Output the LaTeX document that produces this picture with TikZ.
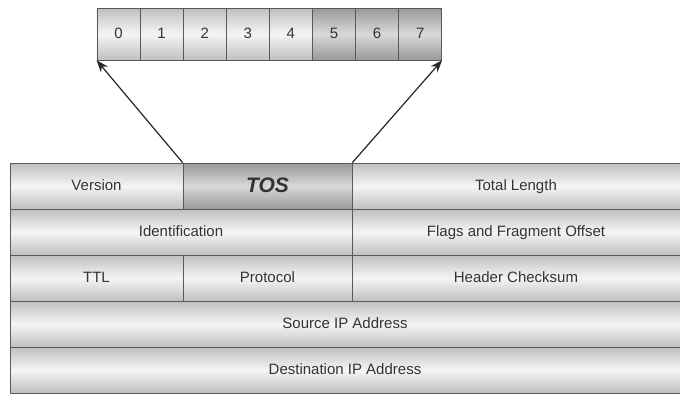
\documentclass[tikz,border=0pt]{standalone}
\usepackage{fontspec}
\setmainfont{Liberation Sans}
\usetikzlibrary{arrows.meta}

\begin{document}
\begin{tikzpicture}
  [x=1pt,y=-1pt,
   every node/.style={draw=gray!70!black,line width=0.6pt,inner sep=0pt,
     minimum height=46pt,text height=11pt,text depth=3pt,
     font=\fontsize{15}{17}\selectfont,text=black!80},
   field/.style={top color=gray!50,bottom color=gray!50,middle color=gray!8},
   dark/.style={top color=gray!80,bottom color=gray!80,middle color=gray!30},
   bit/.style={field,minimum width=43.1pt,minimum height=52pt},
   hi/.style={dark,minimum width=43.1pt,minimum height=52pt},
   link/.style={-{Stealth[length=12pt,width=9pt]},line width=1.2pt,gray!30!black}]

  \useasboundingbox (0,0) rectangle (680,416);

  % header fields
  \node[field,minimum width=173pt] (ver) at (96.5,186) {Version};
  \node[dark,minimum width=169pt,text height=14pt,text depth=2pt] (tos) at (267.5,186)
    {\fontsize{21}{23}\selectfont\bfseries\itshape TOS};
  \node[field,minimum width=328pt] (len) at (516,186) {Total Length};
  \node[field,minimum width=342pt] (ident) at (181,232) {Identification};
  \node[field,minimum width=328pt] (flags) at (516,232) {Flags and Fragment Offset};
  \node[field,minimum width=173pt] (ttl) at (96.5,278) {TTL};
  \node[field,minimum width=169pt] (proto) at (267.5,278) {Protocol};
  \node[field,minimum width=328pt] (cksum) at (516,278) {Header Checksum};
  \node[field,minimum width=670pt] (src) at (345,324) {Source IP Address};
  \node[field,minimum width=670pt] (dst) at (345,370) {Destination IP Address};

  % TOS bits
  \foreach \i in {0,...,4}
    \node[bit] (b\i) at ({118.5+43.1*\i},34) {\i};
  \foreach \i in {5,6,7}
    \node[hi] (b\i) at ({118.5+43.1*\i},34) {\i};

  \draw[link] (tos.north west) -- (b0.south west);
  \draw[link] (tos.north east) -- (b7.south east);
\end{tikzpicture}
\end{document}
